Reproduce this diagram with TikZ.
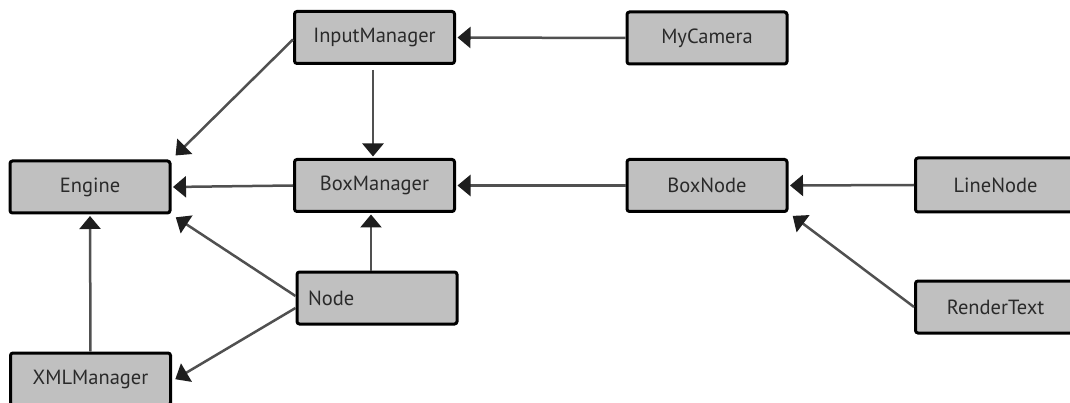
\documentclass[tikz,border=0pt]{standalone}
\usepackage{fontspec}
\setmainfont{PT Sans}
\usetikzlibrary{arrows.meta,calc}
\definecolor{boxfill}{HTML}{C0C0C0}
\definecolor{txt}{HTML}{2A2A2A}
\definecolor{linec}{HTML}{505050}
\definecolor{tipc}{HTML}{1E1E1E}
\tikzset{
  cls/.style={draw=black, line width=3pt, fill=boxfill, rounded corners=2.5pt,
    minimum width=160pt, minimum height=52pt, inner sep=0pt,
    font=\fontsize{20.5}{22}\selectfont, text=txt},
  dep/.style={draw=linec, line width=2.5pt,
    -{Triangle[length=13pt,width=21pt,color=tipc]}, shorten >=1.5pt}
}
\begin{document}
\begin{tikzpicture}[x=1pt,y=-1pt]
\clip (0,0) rectangle (1070,403);
\fill[white] (0,0) rectangle (1070,403);

\node[cls] (im) at (374.5,37.5) {InputManager};
\node[cls] (cam) at (707,38) {MyCamera};
\node[cls] (eng) at (90,187) {Engine};
\node[cls] (bm) at (374.5,185.5) {BoxManager};
\node[cls] (bn) at (707,185.5) {BoxNode};
\node[cls, minimum height=54pt] (ln) at (995.5,185) {LineNode};
\node[cls, text width=138pt, align=left] (nd) at (377,298) {Node};
\node[cls] (rt) at (995.5,307) {RenderText};
\node[cls] (xml) at (90.5,379) {XMLManager};

\draw[dep] (cam.west) -- (im.east);
\draw[dep] ($(im.south)+(-1.5,5)$) -- ($(bm.north)+(-1.5,0)$);
\draw[dep] ($(im.west)+(0,2)$) -- ($(eng.north east)+(3,-3)$);
\draw[dep] (bm.west) -- (eng.east);
\draw[dep] ($(nd.north)+(-6,0)$) -- ($(bm.south)+(-3.5,0)$);
\draw[dep] ($(nd.west)+(0,-2)$) -- ($(eng.south east)+(3,2)$);
\draw[dep] ($(nd.west)+(0,10)$) -- ($(xml.east)+(2,1)$);
\draw[dep] (xml.north) -- (eng.south);
\draw[dep] (bn.west) -- (bm.east);
\draw[dep] (ln.west) -- (bn.east);
\draw[dep] (rt.west) -- ($(bn.south east)+(3,2)$);
\end{tikzpicture}
\end{document}
